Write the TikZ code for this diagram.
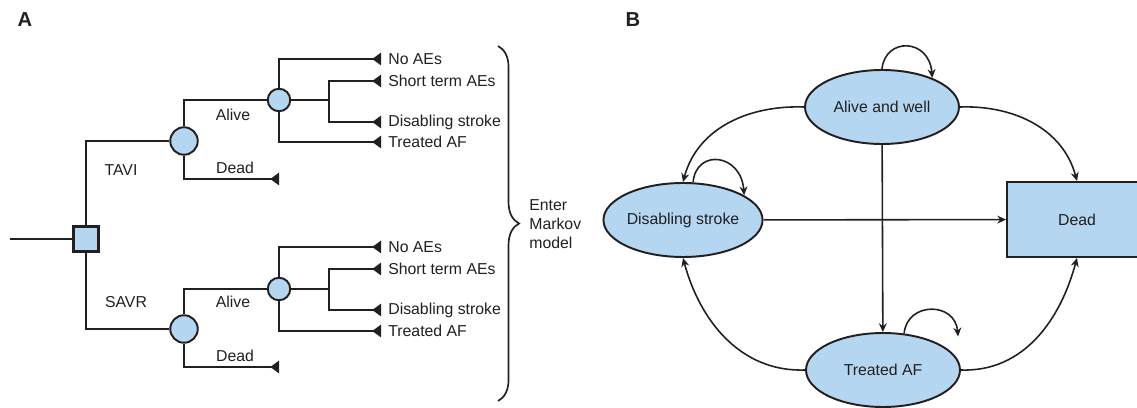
\documentclass[tikz,border=0pt]{standalone}
\usepackage{fontspec}
\setmainfont{Liberation Sans}
\usetikzlibrary{arrows.meta,shapes.geometric,decorations.pathreplacing}
\definecolor{statefill}{RGB}{180,214,240}
\definecolor{ink}{RGB}{35,31,32}
\tikzset{
  line/.style={line width=0.95pt, color=ink},
  term/.style={line, -{Triangle[reversed,length=5pt,width=7pt]}},
  arr/.style={line, line width=0.9pt, -{Stealth[length=5pt,width=4.5pt]}},
  decision/.style={draw=ink, line width=1.4pt, fill=statefill, minimum size=0.5cm, inner sep=0pt},
  chance/.style={circle, draw=ink, line width=1.1pt, fill=statefill, minimum size=0.55cm, inner sep=0pt},
  subchance/.style={circle, draw=ink, line width=1.1pt, fill=statefill, minimum size=0.45cm, inner sep=0pt},
  state/.style={ellipse, draw=ink, line width=1.1pt, fill=statefill, minimum width=3.08cm, minimum height=1.48cm, inner sep=0pt, font=\fontsize{9}{11}\selectfont, text=ink},
  lbl/.style={font=\fontsize{9}{10.5}\selectfont, text=ink, inner sep=0pt},
  panel/.style={font=\fontsize{11.5}{13}\selectfont\bfseries, text=ink}
}

\begin{document}
\begin{tikzpicture}[x=0.02cm, y=-0.02cm]
		\useasboundingbox (0,0) rectangle (1137,408);
		%%%%% PANEL A %%%%%
		
		\node[panel] (pa) at (25,20) {A};
		
		\coordinate (in) at (10,239);
		\node[decision] (dec) at (86,239) {};
		\node[chance] (c1) at (184,141) {};
		\node[chance] (c2) at (184,329) {};
		\node[subchance] (s1) at (279,100) {};
		\node[subchance] (s2) at (279,289) {};
		\coordinate (j1) at (329,100);
		\coordinate (j2) at (329,289);
		
		\draw[line] (in) -- (dec);
		\draw[line] (dec) |- (c1);
		\draw[line] (dec) |- (c2);
		
		% TAVI branch
		\coordinate (t1a) at (381,59);
		\coordinate (t1b) at (381,81);
		\coordinate (t1c) at (381,122);
		\coordinate (t1d) at (381,142);
		\coordinate (d1) at (279,179);
		\draw[line] (c1) |- (s1);
		\draw[term] (c1) |- (d1);
		\draw[term] (s1) |- (t1a);
		\draw[line] (s1) -- (j1);
		\draw[term] (j1) |- (t1b);
		\draw[term] (j1) |- (t1c);
		\draw[term] (s1) |- (t1d);
		
		\node[lbl, anchor=west] (noae1) at (388,59) {No AEs};
		\node[lbl, anchor=west] (short1) at (388,81) {Short term AEs};
		\node[lbl, anchor=west] (stroke1) at (388,122) {Disabling stroke};
		\node[lbl, anchor=west] (af1) at (388,142) {Treated AF};
		\node[lbl] (alive1) at (233,115) {Alive};
		\node[lbl] (dead1) at (235,168) {Dead};
		\node[lbl] (tavi) at (121,170) {TAVI};
		
		% SAVR branch
		\coordinate (t2a) at (381,247);
		\coordinate (t2b) at (381,269);
		\coordinate (t2c) at (381,310);
		\coordinate (t2d) at (381,331);
		\coordinate (d2) at (279,367);
		\draw[line] (c2) |- (s2);
		\draw[term] (c2) |- (d2);
		\draw[term] (s2) |- (t2a);
		\draw[line] (s2) -- (j2);
		\draw[term] (j2) |- (t2b);
		\draw[term] (j2) |- (t2c);
		\draw[term] (s2) |- (t2d);
		
		\node[lbl, anchor=west] (noae2) at (388,247) {No AEs};
		\node[lbl, anchor=west] (short2) at (388,269) {Short term AEs};
		\node[lbl, anchor=west] (stroke2) at (388,310) {Disabling stroke};
		\node[lbl, anchor=west] (af2) at (388,331) {Treated AF};
		\node[lbl] (alive2) at (233,302) {Alive};
		\node[lbl] (dead2) at (235,356) {Dead};
		\node[lbl] (savr) at (126,302) {SAVR};
		
		% brace
		\coordinate (bt) at (498,46);
		\coordinate (bb) at (498,401);
		\draw[line, decorate, decoration={brace, amplitude=12pt}] (bt) -- (bb);
		\node[lbl, anchor=west, align=left, font=\fontsize{9}{10.8}\selectfont] (markov) at (529,224) {Enter\\Markov\\model};
		
		%%%%% PANEL B %%%%%
		
		\node[panel] (pb) at (633,20) {B};
		
		\node[state] (alive) at (882,107) {Alive and well};
		\node[state] (disab) at (683,220) {Disabling stroke};
		\node[state] (treated) at (883,370) {Treated AF};
		\node[draw=ink, line width=1.1pt, fill=statefill, minimum width=2.8cm, minimum height=1.5cm, inner sep=0pt, font=\fontsize{9}{11}\selectfont, text=ink] (dead) at (1077,219.5) {Dead};
		
		\draw[arr] (alive.west) to[out=178, in=75] (disab.north);
		\draw[arr] (alive.east) to[out=2, in=105] (dead.north);
		\draw[arr] (alive) -- (treated);
		\draw[arr] (disab) -- (dead);
		\draw[arr] (treated.west) to[out=182, in=-75] (disab.south);
		\draw[arr] (treated.east) to[out=-2, in=-105] (dead.south);
		
		\draw[arr] (alive.north) .. controls +(3,-32) and +(-3,-40) .. (alive.30);
		\draw[arr] (disab.75) .. controls +(3,-34) and +(-3,-42) .. (disab.22);
		\draw[arr] (treated.60) .. controls +(3,-32) and +(-3,-35) .. ++(54,3);
		
		%%%%% END %%%%%
\end{tikzpicture}
\end{document}
